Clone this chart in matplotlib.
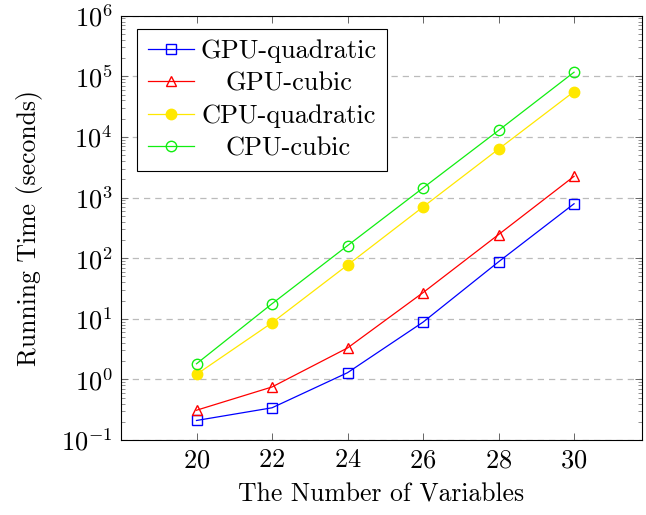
import matplotlib
matplotlib.use('Agg')
import matplotlib.pyplot as plt
from matplotlib.ticker import LogLocator, FixedLocator

plt.rcParams['font.family'] = 'cmr10'
plt.rcParams['mathtext.fontset'] = 'cm'
plt.rcParams['axes.formatter.use_mathtext'] = True

# Datos
variables = [20, 22, 24, 26, 28, 30]
gpu_quadratic = [0.21, 0.34, 1.29, 8.8, 87, 790]
gpu_cubic = [0.31, 0.75, 3.3, 27, 245, 2240]
cpu_quadratic = [1.21, 8.6, 77, 700, 6300, 56000]
cpu_cubic = [1.81, 17.7, 161, 1440, 12800, 117000]
etiquetas = ['GPU-quadratic', 'GPU-cubic', 'CPU-quadratic', 'CPU-cubic']
y_ticks = [1e-1, 1e0, 1e1, 1e2, 1e3, 1e4, 1e5, 1e6]

fig = plt.figure(figsize=(6.46, 5.15), dpi=100)
ax = fig.add_axes([0.1873, 0.1456, 0.8065, 0.8239])

ax.plot(variables, gpu_quadratic, color='#0000ff', lw=0.9, marker='s', ms=7,
        mfc='none', mec='#0000ff', mew=1.0, label=etiquetas[0])
ax.plot(variables, gpu_cubic, color='#ff0000', lw=0.9, marker='^', ms=6.5,
        mfc='none', mec='#ff0000', mew=1.0, label=etiquetas[1])
ax.plot(variables, cpu_quadratic, color='#ffe800', lw=0.9, marker='o', ms=7.5,
        mfc='#ffe800', mec='#ffe800', label=etiquetas[2])
ax.plot(variables, cpu_cubic, color='#11ee11', lw=0.9, marker='o', ms=7.5,
        mfc='none', mec='#11ee11', mew=1.0, label=etiquetas[3])

ax.set_yscale('log')
ax.set_xlim(18, 31.8)
ax.set_ylim(1e-1, 1e6)
ax.xaxis.set_major_locator(FixedLocator(variables))
ax.yaxis.set_major_locator(FixedLocator(y_ticks))
ax.yaxis.set_minor_locator(LogLocator(base=10, subs=range(2, 10), numticks=100))

ax.grid(True, axis='y', which='major', linestyle=(0, (5, 4)), color='#bbbbbb', lw=0.9)
ax.tick_params(which='both', direction='in', top=True, right=True,
               color='#666666', labelsize=19)
ax.tick_params(which='major', length=5, width=0.7, pad=6)
ax.tick_params(which='minor', length=2.8, width=0.5)
ax.tick_params(axis='x', which='minor', bottom=False, top=False)
for s in ax.spines.values():
    s.set_linewidth(0.8)

ax.set_xlabel('The Number of Variables', fontsize=18.5, labelpad=8)
ax.set_ylabel('Running Time (seconds)', fontsize=18.5, labelpad=13)

leg = ax.legend(loc='upper left', fontsize=19, frameon=True, fancybox=False,
                edgecolor='black', framealpha=1, borderpad=0.4,
                labelspacing=0.33, handlelength=1.75, handletextpad=0.25,
                borderaxespad=0, bbox_to_anchor=(0.031, 0.969))
leg.get_frame().set_linewidth(0.8)

# Centrar los textos de la leyenda como en pgfplots
renderer = fig.canvas.get_renderer()
anchos = [t.get_window_extent(renderer).width for t in leg.get_texts()]
for t, w in zip(leg.get_texts(), anchos):
    t.set_position(((max(anchos) - w) / 2, 0))

plt.savefig('out.png', dpi=100)
plt.close()
